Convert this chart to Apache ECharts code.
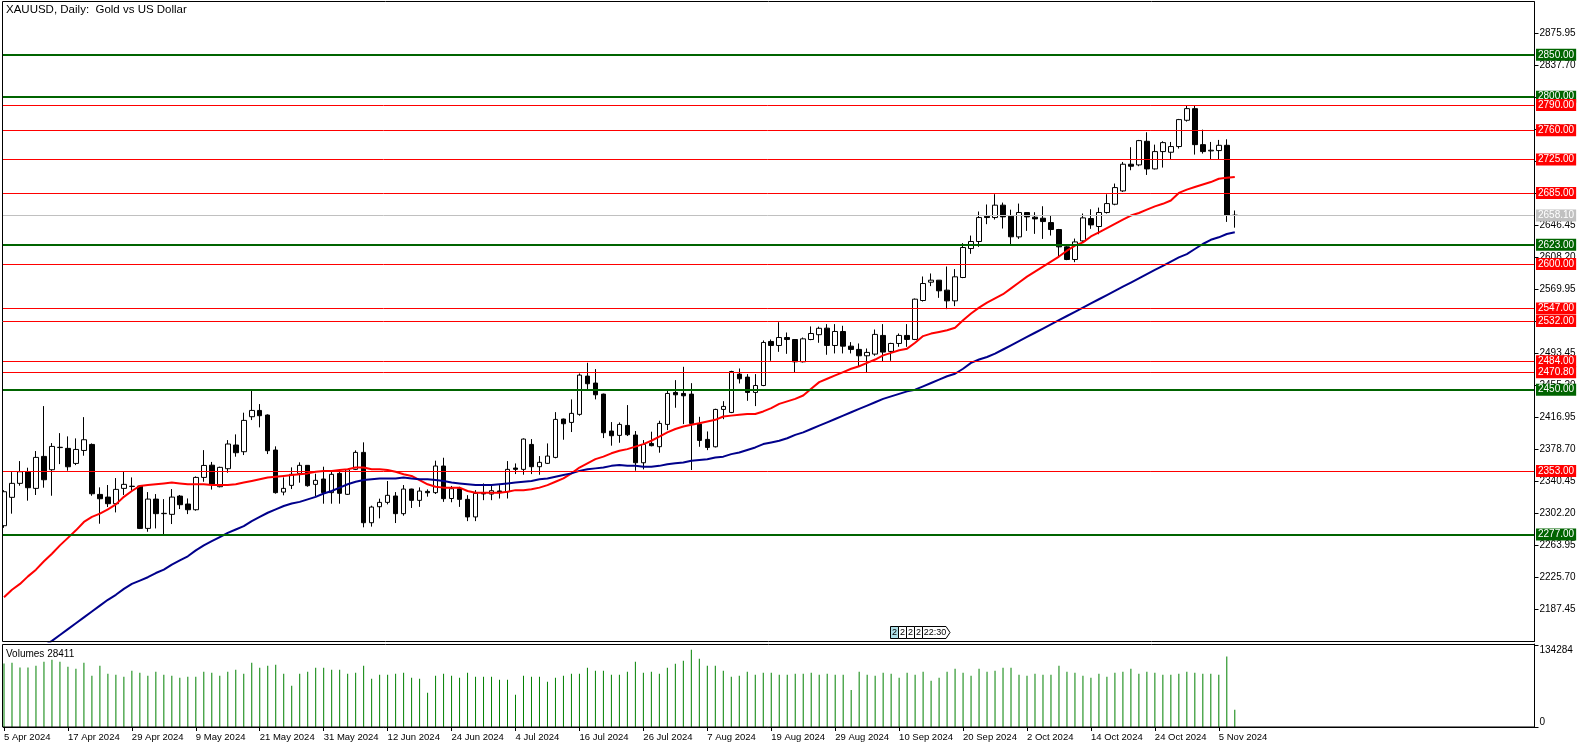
<!DOCTYPE html>
<html><head><meta charset="utf-8">
<script src="https://cdn.jsdelivr.net/npm/echarts@6/dist/echarts.min.js"></script>
<style>html,body{margin:0;padding:0;background:#fff}#c{width:1586px;height:748px}</style>
</head><body><div id="c"></div><script>
// ---- data (daily bars, 5 Apr 2024 .. 7 Nov 2024) ----
const open = [2287.5,2321.4,2338.1,2351.6,2332.1,2370.3,2354.4,2380.8,2379.9,2361.9,2377.4,2384.6,2324.9,2321.7,2313.8,2332.1,2334.3,2334.9,2284.3,2319.3,
2301.9,2301.1,2322.9,2313.4,2306.6,2345.2,2359.8,2334.1,2355.6,2383.9,2375.9,2417.7,2425.2,2419.7,2377.9,2327.7,2335.7,2350.0,2359.6,2336.9,
2343.3,2327.0,2350.0,2325.0,2354.8,2375.1,2291.1,2310.2,2315.4,2323.0,2301.9,2331.3,2317.8,2328.5,2327.0,2358.8,2320.0,2331.7,2319.0,2298.0,
2327.0,2325.3,2329.0,2328.1,2356.4,2354.8,2384.6,2358.0,2362.0,2369.1,2414.9,2410.9,2420.5,2466.2,2457.9,2444.7,2400.6,2395.4,2407.3,2395.8,
2362.7,2385.8,2381.9,2408.5,2446.7,2445.5,2444.7,2408.9,2390.6,2381.8,2426.4,2422.8,2468.6,2465.0,2446.7,2455.0,2507.6,2502.8,2512.3,2509.9,
2483.3,2509.9,2515.7,2523.5,2502.8,2519.5,2502.0,2498.1,2490.5,2492.5,2514.8,2495.7,2505.2,2514.8,2510.0,2556.5,2578.4,2580.8,2568.9,2556.1,
2584.0,2618.6,2627.0,2657.2,2655.6,2670.4,2657.2,2632.5,2661.6,2656.0,2654.8,2649.6,2641.3,2620.6,2605.5,2627.7,2654.4,2644.9,2661.6,2671.5,
2687.4,2719.3,2718.5,2746.7,2713.7,2734.4,2733.6,2740.4,2771.8,2785.7,2742.7,2735.2,2735.6,2741.9,2658.4];
const high = [2330.0,2351.6,2364.7,2356.8,2376.7,2430.4,2386.2,2398.1,2394.2,2391.8,2417.2,2385.8,2333.3,2336.1,2344.4,2352.0,2345.2,2335.5,2327.7,2325.3,
2319.3,2331.3,2324.2,2320.1,2346.4,2377.8,2363.7,2358.0,2389.8,2396.6,2422.5,2448.7,2432.8,2420.5,2382.3,2345.2,2357.2,2363.2,2360.0,2349.6,
2358.0,2352.0,2355.2,2355.0,2377.5,2387.1,2311.4,2319.8,2340.9,2327.7,2336.1,2331.7,2333.3,2330.9,2365.2,2368.7,2335.0,2334.0,2324.0,2330.0,
2338.0,2335.3,2336.0,2364.7,2361.9,2391.8,2391.0,2370.7,2385.8,2423.2,2415.5,2438.4,2469.4,2482.1,2474.6,2445.3,2411.3,2410.9,2431.6,2400.6,
2389.8,2399.8,2412.9,2448.7,2461.4,2477.3,2457.8,2417.6,2400.1,2427.2,2436.3,2472.6,2475.3,2468.6,2468.6,2508.8,2509.9,2530.6,2518.3,2510.5,
2512.3,2525.5,2525.3,2528.3,2528.3,2526.3,2506.8,2505.2,2499.2,2521.9,2528.3,2506.0,2517.1,2528.3,2558.9,2585.2,2588.8,2581.0,2597.1,2594.0,
2625.0,2634.1,2662.8,2671.2,2683.5,2673.5,2665.0,2672.3,2662.0,2662.0,2669.1,2658.4,2642.0,2621.4,2630.5,2660.4,2665.5,2667.5,2683.4,2696.2,
2722.0,2739.6,2748.3,2757.5,2742.7,2746.7,2745.9,2773.4,2788.9,2788.9,2760.6,2745.9,2748.3,2749.1,2664.0];
const low = [2285.0,2301.9,2335.3,2317.4,2324.2,2332.9,2323.3,2361.1,2353.2,2359.9,2371.1,2323.3,2289.9,2309.8,2303.4,2324.2,2329.3,2283.5,2280.3,2284.3,
2277.6,2289.5,2307.4,2301.4,2305.4,2340.0,2330.7,2333.3,2350.8,2369.9,2371.9,2413.7,2405.0,2373.1,2325.8,2323.8,2331.3,2338.9,2334.1,2323.0,
2313.8,2313.8,2313.8,2324.2,2354.0,2285.6,2286.4,2296.3,2313.0,2290.7,2299.5,2308.7,2310.0,2322.2,2325.4,2316.0,2315.5,2310.0,2293.0,2293.0,
2318.0,2318.0,2320.0,2320.0,2349.2,2348.4,2349.2,2348.4,2361.2,2368.0,2390.2,2399.4,2418.9,2450.7,2438.4,2392.2,2383.1,2386.6,2394.6,2353.2,
2354.8,2382.3,2374.7,2401.7,2428.4,2408.9,2354.0,2381.8,2377.8,2381.0,2414.8,2422.0,2457.4,2436.7,2430.4,2454.2,2484.5,2495.2,2492.8,2470.2,
2482.5,2509.1,2506.0,2491.7,2493.3,2493.3,2493.3,2477.4,2470.2,2490.5,2483.3,2484.5,2501.2,2501.2,2509.2,2555.3,2573.7,2559.7,2546.2,2549.8,
2583.2,2612.3,2620.6,2647.7,2653.2,2642.5,2623.8,2630.1,2639.7,2636.1,2630.1,2634.1,2608.6,2604.7,2602.3,2625.4,2642.1,2635.7,2660.4,2670.3,
2686.2,2712.1,2716.9,2706.5,2713.0,2715.3,2724.4,2738.0,2770.2,2730.8,2732.0,2724.4,2724.4,2650.4,2643.5];
const close = [2328.1,2338.1,2352.0,2332.9,2369.1,2342.4,2382.2,2381.2,2357.9,2378.6,2390.2,2325.7,2319.7,2313.8,2330.9,2336.9,2334.7,2284.3,2319.3,2301.9,
2302.3,2321.7,2312.6,2306.6,2345.2,2359.5,2337.3,2357.2,2385.1,2374.7,2413.3,2425.2,2418.9,2377.1,2327.0,2332.1,2348.9,2359.6,2335.3,2341.7,
2327.0,2348.9,2326.2,2354.4,2375.1,2291.1,2309.8,2315.4,2323.8,2301.9,2331.3,2317.8,2328.9,2326.9,2358.8,2319.8,2331.7,2319.0,2298.0,2326.1,
2325.5,2329.3,2327.0,2354.8,2354.8,2391.0,2358.0,2363.2,2370.7,2414.5,2409.3,2421.7,2467.4,2457.1,2443.9,2398.6,2395.0,2408.5,2396.2,2362.7,
2384.6,2383.1,2409.7,2445.5,2443.9,2442.7,2409.7,2389.4,2381.0,2426.4,2430.0,2471.7,2463.0,2446.7,2455.0,2506.4,2502.8,2512.3,2509.9,2483.3,
2510.7,2517.1,2523.3,2502.8,2519.5,2502.0,2498.1,2490.5,2494.5,2516.0,2494.9,2505.2,2514.8,2510.0,2558.1,2576.8,2580.8,2568.1,2556.1,2584.8,
2619.8,2627.0,2655.6,2655.6,2670.4,2656.4,2632.6,2661.6,2656.4,2654.0,2650.8,2641.3,2620.6,2605.5,2626.5,2655.2,2646.8,2661.6,2672.3,2691.4,
2719.3,2716.9,2747.5,2713.7,2734.4,2745.1,2740.4,2772.6,2785.7,2742.7,2734.4,2736.0,2741.9,2658.4,2658.1];
const ma20 = [2202,2211,2218,2227,2235,2245,2254,2264,2273,2282,2292,2298,2302,2307,2313,2322,2329,2335,2336,2337,
2338,2339,2338,2337,2337,2337,2336,2336,2336,2337,2339,2341,2343,2345,2346,2347,2348,2349,2350,2352,
2353,2353,2354,2355,2357,2357,2355,2355,2354,2352,2349,2347,2342,2337,2334,2333,2333,2333,2329,2327,
2327,2327,2327,2328,2330,2330,2331,2333,2336,2340,2344,2350,2357,2362,2367,2370,2374,2377,2379,2382,
2385,2389,2394,2399,2403,2406,2408,2410,2412,2414,2418,2419,2420,2421,2421,2424,2428,2433,2436,2439,
2443,2451,2459,2463,2467,2471,2475,2478,2482,2486,2491,2494,2497,2499,2506,2514,2517,2519,2521,2524,
2533,2541,2548,2554,2559,2564,2571,2578,2585,2591,2597,2603,2609,2616,2622,2626,2633,2638,2643,2648,
2653,2658,2661,2665,2669,2672,2676,2685,2689,2692,2695,2698,2702,2703,2704];
const ma50 = [2114,2120,2126,2132,2138,2144,2150,2157,2164,2171,2178,2185,2192,2199,2205,2212,2218,2222,2226,2231,
2235,2241,2246,2251,2258,2264,2269,2274,2279,2283,2287,2293,2298,2303,2307,2311,2314,2316,2319,2322,
2326,2329,2333,2337,2340,2342,2343,2344,2344,2344,2345,2344,2343,2343,2342,2341,2339,2338,2337,2336,
2336,2336,2337,2338,2339,2340,2341,2343,2344,2346,2348,2350,2353,2355,2356,2357,2359,2360,2359,2359,
2358,2358,2359,2361,2362,2363,2365,2366,2367,2369,2370,2373,2375,2378,2381,2385,2387,2389,2392,2396,
2399,2403,2407,2411,2415,2419,2423,2427,2431,2435,2439,2442,2445,2448,2450,2454,2458,2462,2466,2469,
2475,2482,2486,2489,2493,2498,2503,2508,2513,2518,2523,2528,2533,2538,2543,2548,2553,2558,2563,2568,
2573,2578,2583,2588,2593,2598,2603,2608,2612,2618,2624,2629,2632,2636,2638];
const volume = [105000,106100,98400,98400,101100,107800,111100,107800,99500,96200,106100,84500,101100,87900,86200,82900,92800,89500,84500,91200,
86200,84500,81200,82900,82900,91200,89500,84500,91200,94500,87900,106100,97800,101100,102800,87900,68000,87900,91200,97800,
97800,94500,94500,87900,89500,101100,79600,86200,86200,87900,89500,81200,79600,56400,84500,87900,84500,81200,89500,82900,
82900,82900,77900,77900,53100,84500,82900,82900,74600,81200,84500,87900,87900,97800,92800,92800,86200,86200,91200,107800,
89500,91200,87900,97800,104400,109400,127700,112700,101100,101100,92800,82900,84500,91200,86200,89500,89500,86200,86200,87900,
87900,89500,86200,87900,86200,86200,61300,91200,86200,84500,89500,87900,81200,89500,86200,91200,76300,81200,91200,96200,
89500,84500,96200,91200,92800,97800,97800,86200,84500,87900,86200,86200,101100,91200,89500,84500,81200,87900,82900,89500,
91200,96200,87900,91200,89500,86200,86200,87900,91200,89500,87900,87900,86200,116600,28411];
const tickLabels = ['5 Apr 2024','17 Apr 2024','29 Apr 2024','9 May 2024','21 May 2024','31 May 2024','12 Jun 2024','24 Jun 2024','4 Jul 2024','16 Jul 2024',
'26 Jul 2024','7 Aug 2024','19 Aug 2024','29 Aug 2024','10 Sep 2024','20 Sep 2024','2 Oct 2024','14 Oct 2024','24 Oct 2024','5 Nov 2024'];
const greenLevels = [2850, 2800, 2623, 2450, 2277];
const redLevels = [2790, 2760, 2725, 2685, 2600, 2547, 2532, 2484, 2470.80, 2353];
const bidLevel = 2658.10;
const lastVolume = 28411;

// ---- chart ----
const FONT = "'Liberation Sans', Arial, sans-serif";
const SLOTS = 192;
const cats = Array.from({length: SLOTS}, (_, i) => i);
const candles = open.map((o, i) => [o, close[i], low[i], high[i]]);

function lvl(v, color, width) {
  return {
    yAxis: v,
    lineStyle: {color: color, width: width, type: 'solid'},
    label: {show: true, position: 'end', distance: 1.5, formatter: v.toFixed(2),
      color: '#fff', backgroundColor: color, fontSize: 10, fontFamily: FONT,
      lineHeight: 12, padding: [0, 2, 0, 2]}
  };
}
const levelData = [];
greenLevels.forEach(v => levelData.push(lvl(v, '#006400', 2)));
levelData.push(lvl(bidLevel, '#c0c0c0', 1));
redLevels.forEach(v => levelData.push(lvl(v, '#ff0000', 1)));

const tickShow = (i) => i % 8 === 0 && i <= 152;
const TXT = (s, x) => ({type: 'text', x: x, y: 6.5, style: {text: s, fill: '#000', font: '9px ' + FONT, textAlign: 'center', textVerticalAlign: 'middle'}});

const chart = echarts.init(document.getElementById('c'), null, {renderer: 'canvas'});
chart.setOption({
  animation: false,
  backgroundColor: '#ffffff',
  title: [
    {text: 'XAUUSD, Daily:  Gold vs US Dollar', left: 6, top: 4, padding: 0,
     textStyle: {fontSize: 11.5, fontWeight: 'normal', color: '#000', fontFamily: FONT}},
    {text: 'Volumes ' + lastVolume, left: 6, top: 649, padding: 0,
     textStyle: {fontSize: 10, fontWeight: 'normal', color: '#000', fontFamily: FONT}}
  ],
  grid: [
    {left: -1.5, width: SLOTS * 8, top: 2, height: 639.5},
    {left: -1.5, width: SLOTS * 8, top: 644, height: 83}
  ],
  xAxis: [
    {type: 'category', gridIndex: 0, data: cats, boundaryGap: true,
     axisLine: {show: false}, axisTick: {show: false}, axisLabel: {show: false}, splitLine: {show: false}},
    {type: 'category', gridIndex: 1, data: cats, boundaryGap: true,
     axisLine: {show: true, lineStyle: {color: '#000', width: 1}},
     axisTick: {show: true, alignWithLabel: true, interval: tickShow, length: 4, lineStyle: {color: '#000'}},
     axisLabel: {show: true, interval: tickShow, formatter: (v, i) => tickLabels[Math.round(i / 8)] || '',
       align: 'left', margin: 5, fontSize: 9.5, color: '#000', fontFamily: FONT},
     splitLine: {show: false}}
  ],
  yAxis: [
    {type: 'value', gridIndex: 0, position: 'right', min: 2149.20, max: 2913.07, interval: 38.25,
     axisLine: {show: true, lineStyle: {color: '#000', width: 1}},
     axisTick: {show: true, inside: false, length: 4, lineStyle: {color: '#000'}},
     axisLabel: {show: true, formatter: v => v.toFixed(2), margin: 5, fontSize: 10, color: '#000',
       fontFamily: FONT, showMinLabel: false, showMaxLabel: false},
     splitLine: {show: false}},
    {type: 'value', gridIndex: 1, position: 'right', min: 0, max: 137092, interval: 134284,
     axisLine: {show: true, lineStyle: {color: '#000', width: 1}},
     axisTick: {show: true, inside: false, length: 4, lineStyle: {color: '#000'}},
     axisLabel: {show: true, margin: 5, showMaxLabel: false,
       formatter: v => v === 0 ? '{b|0}' : '{a|' + v + '}',
       rich: {a: {fontSize: 10, color: '#000', fontFamily: FONT, padding: [9, 0, 0, 0]},
              b: {fontSize: 10, color: '#000', fontFamily: FONT, padding: [0, 0, 10, 0]}}},
     splitLine: {show: false}}
  ],
  series: [
    {type: 'candlestick', xAxisIndex: 0, yAxisIndex: 0, data: candles, barWidth: 5,
     itemStyle: {color: '#ffffff', color0: '#000000', borderColor: '#000000', borderColor0: '#000000', borderWidth: 1},
     markLine: {silent: true, symbol: ['none', 'none'], animation: false, data: levelData}},
    {type: 'line', name: 'MA20', xAxisIndex: 0, yAxisIndex: 0, data: ma20, symbol: 'none', z: 3,
     lineStyle: {color: '#ff0000', width: 2}},
    {type: 'line', name: 'MA50', xAxisIndex: 0, yAxisIndex: 0, data: ma50, symbol: 'none', z: 3,
     lineStyle: {color: '#00008b', width: 2}},
    {type: 'bar', xAxisIndex: 1, yAxisIndex: 1, data: volume, barWidth: 1,
     itemStyle: {color: '#008000'}}
  ],
  graphic: [
    {type: 'rect', z: 100, shape: {x: 0, y: 0, width: 3, height: 748}, style: {fill: '#fff'}},
    {type: 'rect', z: 101, shape: {x: 2.5, y: 1.5, width: 1532, height: 640}, style: {fill: null, stroke: '#000', lineWidth: 1}},
    {type: 'rect', z: 101, shape: {x: 2.5, y: 644.5, width: 1532, height: 82.5}, style: {fill: null, stroke: '#000', lineWidth: 1}},
    {type: 'group', left: 890, top: 626, z: 102, children: [
      {type: 'rect', shape: {x: 0.5, y: 0.5, width: 8, height: 12}, style: {fill: '#b0e0e8', stroke: '#000', lineWidth: 1}},
      TXT('2', 4.5),
      {type: 'rect', shape: {x: 8.5, y: 0.5, width: 8, height: 12}, style: {fill: '#fff', stroke: '#000', lineWidth: 1}},
      TXT('2', 12.5),
      {type: 'rect', shape: {x: 16.5, y: 0.5, width: 8, height: 12}, style: {fill: '#fff', stroke: '#000', lineWidth: 1}},
      TXT('2', 20.5),
      {type: 'rect', shape: {x: 24.5, y: 0.5, width: 8, height: 12}, style: {fill: '#fff', stroke: '#000', lineWidth: 1}},
      TXT('2', 28.5),
      {type: 'polygon', shape: {points: [[32.5, 0.5], [56, 0.5], [60, 6.5], [56, 12.5], [32.5, 12.5]]}, style: {fill: '#fff', stroke: '#000', lineWidth: 1}},
      TXT('22:30', 45)
    ]}
  ]
});
</script></body></html>
